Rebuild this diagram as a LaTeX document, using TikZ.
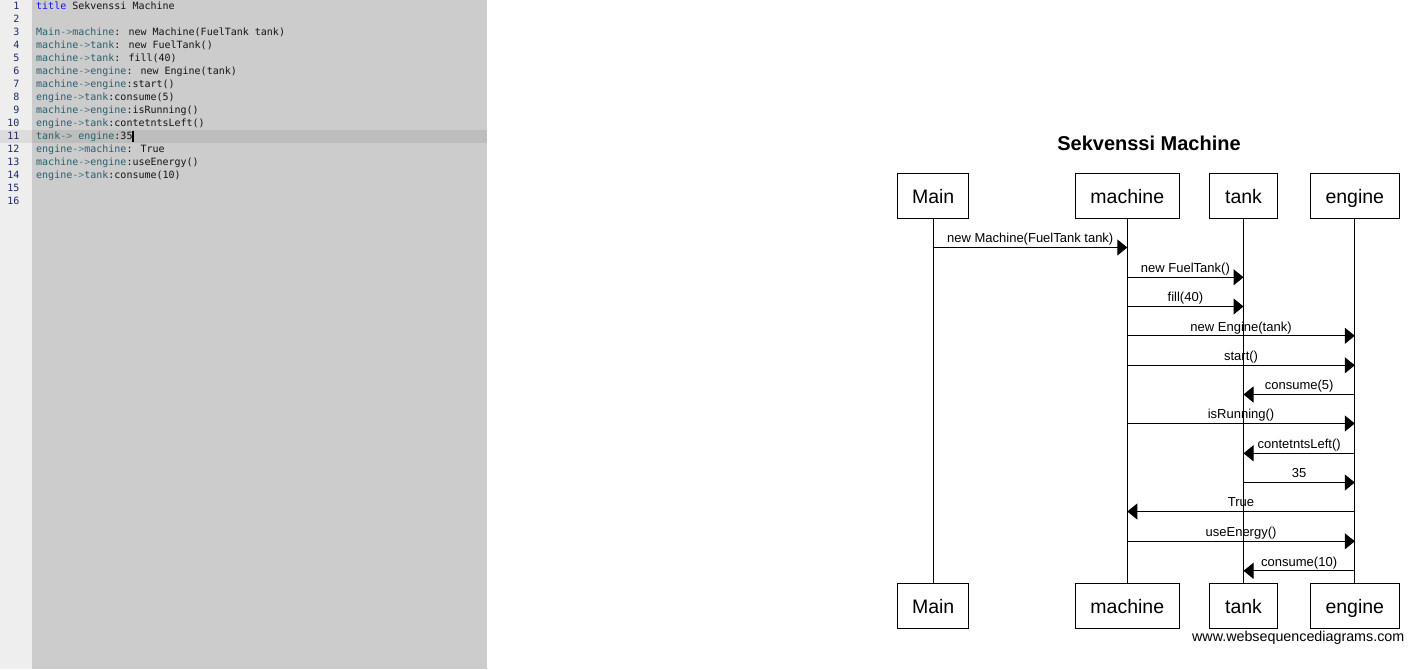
\documentclass[tikz,border=0pt]{standalone}
\usepackage{fontspec}
\setmainfont{Liberation Sans}
\newfontfamily\codefont{DejaVu Sans Mono}
\usetikzlibrary{arrows.meta}

\definecolor{gutterbg}{HTML}{EEEEEE}
\definecolor{gutterhl}{HTML}{DCDCDC}
\definecolor{editorbg}{HTML}{CCCCCC}
\definecolor{editorhl}{HTML}{BDBDBD}
\definecolor{lineno}{HTML}{1E2A66}
\definecolor{kwcol}{HTML}{1414F0}
\definecolor{partcol}{HTML}{2A5E6E}
\definecolor{arrcol}{HTML}{5A7A84}
\definecolor{txtcol}{HTML}{141414}

% code editor helpers
\newcommand\kw[1]{\textcolor{kwcol}{#1}}
\newcommand\pt[1]{\textcolor{partcol}{#1}}
\newcommand\ar{\textcolor{arrcol}{->}}
\newcommand\tx[1]{\textcolor{txtcol}{#1}}

\tikzset{
  codeline/.style={anchor=base west, inner sep=0pt, font=\codefont\fontsize{10}{13}\selectfont},
  numline/.style={anchor=base east, inner sep=0pt, text=lineno, font=\codefont\fontsize{10}{13}\selectfont},
  actor/.style={draw=black, line width=1pt, fill=white, minimum height=45pt, inner sep=0pt,
    text height=18pt, text depth=3.4pt, font=\fontsize{19.5}{24}\selectfont},
  lifeline/.style={draw=black, line width=1pt},
  msgline/.style={draw=black, line width=1pt, -{Triangle[length=10pt,width=16pt]}},
  msglabel/.style={anchor=base, inner sep=0pt, yshift=4.8pt, font=\fontsize{13}{15}\selectfont},
}

\begin{document}
\begin{tikzpicture}[x=1pt, y=-1pt]
\useasboundingbox (0,0) rectangle (1415,669);

% editor background
\fill[gutterbg] (0,0) rectangle (32,669);
\fill[editorbg] (32,0) rectangle (487,669);
\fill[gutterhl] (0,129.5) rectangle (32,142.5);
\fill[editorhl] (32,129.5) rectangle (487,142.5);

% line numbers
\foreach \n in {1,...,16} {
  \node[numline] (ln\n) at (19.5, {9.5 + 13*(\n-1)}) {\n};
}

% source lines
\node[codeline] (c1)  at (36, 9.5)   {\kw{title} \tx{Sekvenssi Machine}};
\node[codeline] (c3)  at (36, 35.5)  {\pt{Main}\ar\pt{machine}\tx{: new Machine(FuelTank tank)}};
\node[codeline] (c4)  at (36, 48.5)  {\pt{machine}\ar\pt{tank}\tx{: new FuelTank()}};
\node[codeline] (c5)  at (36, 61.5)  {\pt{machine}\ar\pt{tank}\tx{: fill(40)}};
\node[codeline] (c6)  at (36, 74.5)  {\pt{machine}\ar\pt{engine}\tx{: new Engine(tank)}};
\node[codeline] (c7)  at (36, 87.5)  {\pt{machine}\ar\pt{engine}\tx{:start()}};
\node[codeline] (c8)  at (36, 100.5) {\pt{engine}\ar\pt{tank}\tx{:consume(5)}};
\node[codeline] (c9)  at (36, 113.5) {\pt{machine}\ar\pt{engine}\tx{:isRunning()}};
\node[codeline] (c10) at (36, 126.5) {\pt{engine}\ar\pt{tank}\tx{:contetntsLeft()}};
\node[codeline] (c11) at (36, 139.5) {\pt{tank}\ar{} \pt{engine}\tx{:35}};
\node[codeline] (c12) at (36, 152.5) {\pt{engine}\ar\pt{machine}\tx{: True}};
\node[codeline] (c13) at (36, 165.5) {\pt{machine}\ar\pt{engine}\tx{:useEnergy()}};
\node[codeline] (c14) at (36, 178.5) {\pt{engine}\ar\pt{tank}\tx{:consume(10)}};

% text cursor
\coordinate (curtop) at (133,130.5);
\coordinate (curbot) at (133,141.5);
\draw[line width=1.4pt, black] (curtop) -- (curbot);

% title
\node[font=\bfseries\fontsize{20}{24}\selectfont, inner sep=0pt] (title) at (1149,143) {Sekvenssi Machine};

% participants, top row
\node[actor, minimum width=71.5pt] (mainT) at (933.2,196) {Main};
\node[actor, minimum width=104pt]  (machT) at (1127.3,196) {machine};
\node[actor, minimum width=68.5pt] (tankT) at (1243.5,196) {tank};
\node[actor, minimum width=89pt]   (engT)  at (1354.8,196) {engine};

% participants, bottom row
\node[actor, minimum width=71.5pt] (mainB) at (933.2,606) {Main};
\node[actor, minimum width=104pt]  (machB) at (1127.3,606) {machine};
\node[actor, minimum width=68.5pt] (tankB) at (1243.5,606) {tank};
\node[actor, minimum width=89pt]   (engB)  at (1354.8,606) {engine};

% lifelines
\draw[lifeline] (mainT.south) -- (mainB.north);
\draw[lifeline] (machT.south) -- (machB.north);
\draw[lifeline] (tankT.south) -- (tankB.north);
\draw[lifeline] (engT.south)  -- (engB.north);

% message rows
\foreach \i/\yy in {1/247.5, 2/277.3, 3/306.5, 4/335.8, 5/365.3, 6/394.5,
                    7/423.5, 8/453.3, 9/482.5, 10/511.5, 11/541.3, 12/570.8} {
  \coordinate (row\i) at (0,\yy);
}

% messages
\draw[msgline] (mainT |- row1)  -- node[msglabel] {new Machine(FuelTank tank)} (machT |- row1);
\draw[msgline] (machT |- row2)  -- node[msglabel] {new FuelTank()} (tankT |- row2);
\draw[msgline] (machT |- row3)  -- node[msglabel] {fill(40)} (tankT |- row3);
\draw[msgline] (machT |- row4)  -- node[msglabel] {new Engine(tank)} (engT |- row4);
\draw[msgline] (machT |- row5)  -- node[msglabel] {start()} (engT |- row5);
\draw[msgline] (engT |- row6)   -- node[msglabel] {consume(5)} (tankT |- row6);
\draw[msgline] (machT |- row7)  -- node[msglabel] {isRunning()} (engT |- row7);
\draw[msgline] (engT |- row8)   -- node[msglabel] {contetntsLeft()} (tankT |- row8);
\draw[msgline] (tankT |- row9)  -- node[msglabel] {35} (engT |- row9);
\draw[msgline] (engT |- row10)  -- node[msglabel] {True} (machT |- row10);
\draw[msgline] (machT |- row11) -- node[msglabel] {useEnergy()} (engT |- row11);
\draw[msgline] (engT |- row12)  -- node[msglabel] {consume(10)} (tankT |- row12);

% footer
\node[anchor=east, inner sep=0pt, font=\fontsize{14.3}{16}\selectfont] (site) at (1404.5,637.5) {www.websequencediagrams.com};
\end{tikzpicture}
\end{document}
